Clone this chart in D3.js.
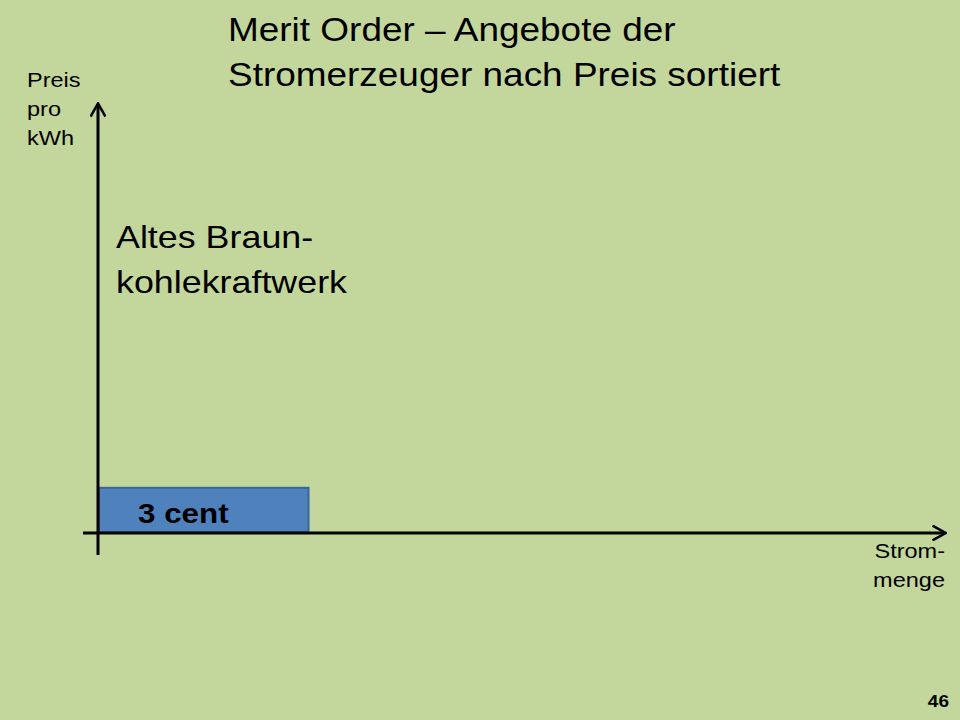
<!DOCTYPE html>
<html>
<head>
<meta charset="utf-8">
<script src="https://cdn.jsdelivr.net/npm/d3@7"></script>
<style>
  body { margin: 0; background: #c3d69b; }
  svg { display: block; font-family: "Liberation Sans", Arial, sans-serif; }
</style>
</head>
<body>
<svg width="960" height="720"></svg>
<script>
// Merit-Order data: one producer so far
let plants = ["Altes Braun-kohlekraftwerk"]
let prices = [3]          // cent per kWh
let amounts = [5]         // share of the quantity axis
let priceLabels = ["3 cent"]
let titleLines = ["Merit Order \u2013 Angebote der", "Stromerzeuger nach Preis sortiert"]

let svg = d3.select("svg")

// the slide text is a bit wider than normal Arial
let sx = 1.12
let place = (x, y) => "translate(" + x + "," + y + ") scale(" + sx + ",1)"

let x = d3.scaleLinear().domain([0, 20]).range([99, 945])
let y = d3.scaleLinear().domain([0, 29]).range([532, 105])

svg.append("rect").attr("width", 960).attr("height", 720).attr("fill", "#c3d69b")

// bars (stacked left to right by amount)
let starts = []
let acc = 0
for (let i in amounts) { starts.push(acc); acc += amounts[i] }

svg.selectAll(".bar")
  .data(prices)
  .enter().append("rect")
  .attr("class", "bar")
  .attr("x", (d, i) => x(starts[i]))
  .attr("y", (d) => y(d))
  .attr("width", (d, i) => x(starts[i] + amounts[i]) - x(starts[i]) - 2)
  .attr("height", (d) => y(0) - y(d))
  .attr("fill", "#4f81bd")
  .attr("stroke", "#3a659a")
  .attr("stroke-width", 2)

svg.selectAll(".barlabel")
  .data(priceLabels)
  .enter().append("text")
  .attr("transform", (d, i) => place(x(starts[i]) + 39, y(0) - 9))
  .attr("font-size", "28px")
  .attr("font-weight", "bold")
  .attr("fill", "#000")
  .text((d) => d)

// axes with arrows
let defs = svg.append("defs")
defs.append("marker")
  .attr("id", "arrow")
  .attr("viewBox", "0 0 10 10")
  .attr("refX", 8).attr("refY", 5)
  .attr("markerWidth", 5.5).attr("markerHeight", 5.5)
  .attr("orient", "auto")
  .append("path")
  .attr("d", "M1,0.5 L9,5 L1,9.5")
  .attr("fill", "none")
  .attr("stroke", "#000")
  .attr("stroke-width", 1.5)

svg.append("line")
  .attr("x1", 83).attr("x2", 944)
  .attr("y1", y(0) + 1).attr("y2", y(0) + 1)
  .attr("stroke", "#000").attr("stroke-width", 3)
  .attr("marker-end", "url(#arrow)")

svg.append("line")
  .attr("x1", x(0) - 1).attr("x2", x(0) - 1)
  .attr("y1", 555).attr("y2", y(29))
  .attr("stroke", "#000").attr("stroke-width", 3)
  .attr("marker-end", "url(#arrow)")

// title
svg.selectAll(".title")
  .data(titleLines)
  .enter().append("text")
  .attr("transform", (d, i) => place(228, 41 + i * 45))
  .attr("font-size", "33px")
  .attr("fill", "#000")
  .text((d) => d)

// axis labels
let yLab = ["Preis", "pro", "kWh"]
svg.selectAll(".ylab")
  .data(yLab)
  .enter().append("text")
  .attr("transform", (d, i) => place(27, 87 + i * 29))
  .attr("font-size", "21px")
  .text((d) => d)

let xLab = ["Strom-", "menge"]
svg.selectAll(".xlab")
  .data(xLab)
  .enter().append("text")
  .attr("transform", (d, i) => place(945, 558 + i * 29))
  .attr("text-anchor", "end")
  .attr("font-size", "21px")
  .text((d) => d)

// plant label
let plantLines = ["Altes Braun-", "kohlekraftwerk"]
svg.selectAll(".plant")
  .data(plantLines)
  .enter().append("text")
  .attr("transform", (d, i) => place(116, 248 + i * 45))
  .attr("font-size", "32px")
  .text((d) => d)

// slide number
svg.append("text")
  .attr("transform", place(949, 707))
  .attr("text-anchor", "end")
  .attr("font-size", "17px")
  .attr("font-weight", "bold")
  .text("46")
</script>
</body>
</html>
